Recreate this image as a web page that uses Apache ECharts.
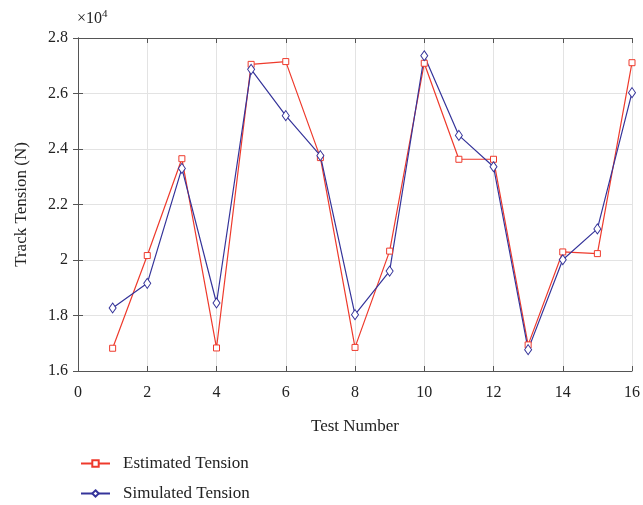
<!DOCTYPE html>
<html>
<head>
<meta charset="UTF-8">
<title>Track tension</title>
<script src="https://cdn.jsdelivr.net/npm/echarts@6/dist/echarts.min.js"></script>
</head>
<body style="margin:0">
<div id="main" style="width:643px;height:505px;"></div>
<script type="text/javascript">
// test numbers 1..16
var testNo = [1, 2, 3, 4, 5, 6, 7, 8, 9, 10, 11, 12, 13, 14, 15, 16];
// track tension in N
var estimated = [16820, 20160, 23650, 16830, 27050, 27150, 23690, 16850, 20320, 27090, 23630, 23630, 16940, 20290, 20230, 27110];
var simulated = [18270, 19160, 23300, 18450, 26870, 25200, 23760, 18030, 19600, 27360, 24490, 23360, 16770, 20010, 21120, 26030];

var red = '#ee3a2c';
var blue = '#35349a';
var font = 'Liberation Serif';

var chart = echarts.init(document.getElementById('main'));

function pairs(ys) {
  return ys.map(function (y, i) { return [testNo[i], y]; });
}

var boxAxis = {
  axisLine: { show: true, lineStyle: { color: '#555', width: 1 } },
  axisTick: { show: true, inside: true, length: 5, lineStyle: { color: '#555' } },
  axisLabel: { show: false },
  splitLine: { show: false }
};

function legendAt(name, top) {
  return {
    left: 80, top: top, padding: 0, itemWidth: 29, itemHeight: 8, itemGap: 10,
    textStyle: { fontFamily: font, fontSize: 17, color: '#222', padding: [0, 0, 0, 8] },
    data: [name]
  };
}

var option = {
  animation: false,
  backgroundColor: '#fff',
  grid: { left: 78, right: 8, top: 38, bottom: 134 },
  xAxis: [{
    type: 'value', min: 0, max: 16, interval: 2,
    name: 'Test Number', nameLocation: 'middle', nameGap: 47,
    nameTextStyle: { fontFamily: font, fontSize: 17, color: '#222' },
    axisLine: { lineStyle: { color: '#555' } },
    axisTick: { inside: true, length: 5, lineStyle: { color: '#555' } },
    axisLabel: { fontFamily: font, fontSize: 16, color: '#222', margin: 14 },
    splitLine: { show: true, lineStyle: { color: '#e3e3e3' } }
  }, Object.assign({ type: 'value', position: 'top', min: 0, max: 16, interval: 2 }, boxAxis)],
  yAxis: [{
    type: 'value', min: 16000, max: 28000, interval: 2000,
    name: 'Track Tension (N)', nameLocation: 'middle', nameGap: 48,
    nameTextStyle: { fontFamily: font, fontSize: 17, color: '#222' },
    axisLine: { show: true, lineStyle: { color: '#555' } },
    axisTick: { show: true, inside: true, length: 5, lineStyle: { color: '#555' } },
    axisLabel: {
      fontFamily: font, fontSize: 16, color: '#222', margin: 10,
      formatter: function (v) { return String(+(v / 10000).toFixed(1)); }
    },
    splitLine: { show: true, lineStyle: { color: '#e3e3e3' } }
  }, Object.assign({ type: 'value', position: 'right', min: 16000, max: 28000, interval: 2000 }, boxAxis)],
  legend: [legendAt('Estimated Tension', 455), legendAt('Simulated Tension', 485)],
  graphic: [{
    type: 'text', left: 77, top: 9,
    style: {
      text: '×10{s|4}', fontFamily: font, fontSize: 16, fill: '#222',
      rich: { s: { fontFamily: font, fontSize: 11, fill: '#222', verticalAlign: 'top', padding: [0, 0, 8, 0] } }
    }
  }],
  series: [{
    name: 'Estimated Tension', type: 'line',
    data: pairs(estimated),
    symbol: 'rect', symbolSize: 6,
    lineStyle: { color: red, width: 1.2 },
    itemStyle: { color: '#fff', borderColor: red, borderWidth: 1 }
  }, {
    name: 'Simulated Tension', type: 'line',
    data: pairs(simulated),
    symbol: 'diamond', symbolSize: [7, 10],
    lineStyle: { color: blue, width: 1.2 },
    itemStyle: { color: '#fff', borderColor: blue, borderWidth: 1 }
  }]
};
chart.setOption(option);
</script>
</body>
</html>
